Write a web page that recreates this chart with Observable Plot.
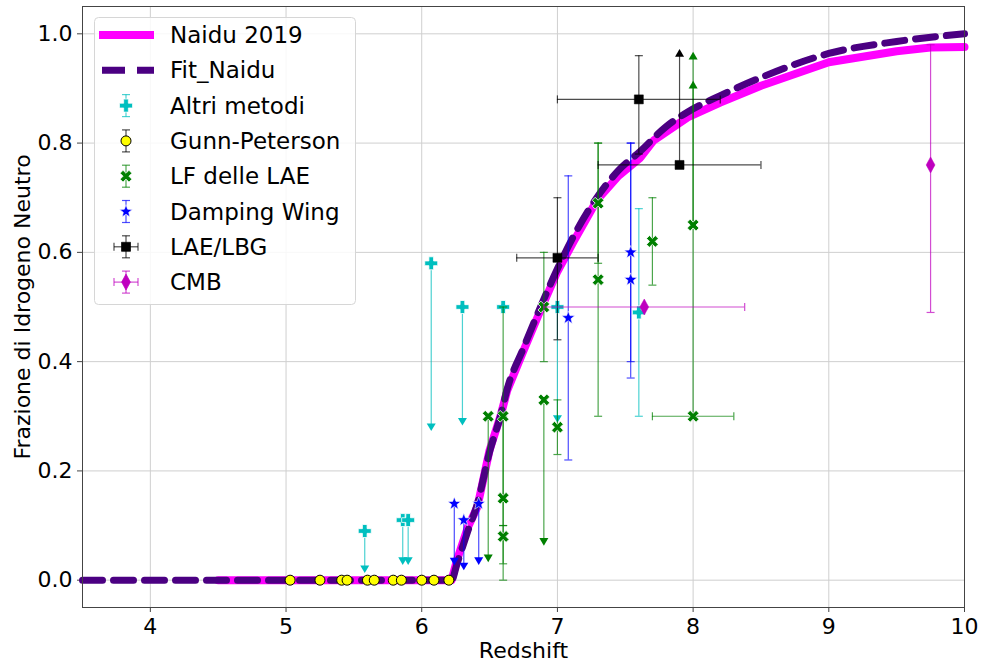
<!DOCTYPE html>
<html>
<head>
<meta charset="utf-8">
<script src="https://cdn.jsdelivr.net/npm/d3@7"></script>
<script src="https://cdn.jsdelivr.net/npm/@observablehq/plot@0.6"></script>
<style>
  body { margin: 0; background: #fff; }
  #chart { position: relative; width: 982px; height: 664px; font-family: "DejaVu Sans", sans-serif; }
  #legend { position: absolute; left: 94px; top: 17px; }
</style>
</head>
<body>
<div id="chart"></div>
<script>
// ---- Axis ticks ----
const xTicks = [4, 5, 6, 7, 8, 9, 10];
const yTicks = [0, 0.2, 0.4, 0.6, 0.8, 1.0];

// ---- Naidu 2019 model (redshift, neutral fraction) ----
const naiduZ = [4.5, 6.22, 6.26, 6.34, 6.41, 6.5, 6.58, 6.63, 6.75, 6.875, 7.0, 7.12, 7.29, 7.45, 7.61, 7.71, 7.96, 8.2, 8.5, 9.0, 9.5, 9.75, 10];
const naiduX = [0, 0, 0.037, 0.097, 0.134, 0.238, 0.30, 0.347, 0.42, 0.494, 0.565, 0.62, 0.695, 0.74, 0.773, 0.805, 0.847, 0.874, 0.905, 0.948, 0.968, 0.975, 0.976];

// ---- Fit to the Naidu model ----
const fitZ = [3.5, 6.22, 6.26, 6.34, 6.41, 6.5, 6.58, 6.63, 6.75, 6.875, 7.0, 7.12, 7.29, 7.45, 7.61, 7.8, 7.96, 8.2, 8.5, 9.0, 9.5, 10];
const fitX = [0, 0, 0.03, 0.09, 0.14, 0.235, 0.30, 0.35, 0.425, 0.50, 0.57, 0.63, 0.70, 0.75, 0.785, 0.83, 0.857, 0.887, 0.92, 0.964, 0.986, 1.0];

// ---- Observational constraints ----
// z: redshift, x: neutral fraction, lo/hi: error-bar ends, zlo/zhi: redshift range,
// lim: "upper" (arrow down to lo) or "lower" (arrow up to hi)
const altriMetodi = [
  {z: 5.58, x: 0.09, lo: 0.02, lim: "upper"},
  {z: 5.86, x: 0.11, lo: 0.035, lim: "upper"},
  {z: 5.90, x: 0.11, lo: 0.035, lim: "upper"},
  {z: 6.07, x: 0.58, lo: 0.28, lim: "upper"},
  {z: 6.30, x: 0.50, lo: 0.29, lim: "upper"},
  {z: 6.60, x: 0.50},
  {z: 7.00, x: 0.50, lo: 0.295, lim: "upper"},
  {z: 7.60, x: 0.49, lo: 0.30, hi: 0.68}
];
const gunnPetersonZ = [5.03, 5.25, 5.41, 5.45, 5.60, 5.65, 5.79, 5.85, 6.00, 6.09, 6.20];
const gunnPetersonX = [0, 0, 0, 0, 0, 0, 0, 0, 0, 0, 0];
const lfLAE = [
  {z: 6.49, x: 0.30, lo: 0.04, lim: "upper"},
  {z: 6.60, x: 0.30, lo: 0.10, hi: 0.50},
  {z: 6.60, x: 0.15, lo: 0.03, hi: 0.30},
  {z: 6.60, x: 0.08, lo: 0.0, hi: 0.10},
  {z: 6.90, x: 0.33, lo: 0.07, lim: "upper"},
  {z: 6.90, x: 0.50, lo: 0.40, hi: 0.60},
  {z: 7.00, x: 0.28, lo: 0.23, hi: 0.33},
  {z: 7.30, x: 0.69, lo: 0.58, hi: 0.80},
  {z: 7.30, x: 0.55, lo: 0.30, hi: 0.80},
  {z: 7.70, x: 0.62, lo: 0.54, hi: 0.70},
  {z: 8.00, x: 0.65, hi: 0.907, lim: "lower"},
  {z: 8.00, x: 0.30, hi: 0.96, lim: "lower", zlo: 7.7, zhi: 8.3}
];
const dampingWing = [
  {z: 6.24, x: 0.14, lo: 0.034, lim: "upper"},
  {z: 6.31, x: 0.11, lo: 0.025, lim: "upper"},
  {z: 6.42, x: 0.14, lo: 0.035, lim: "upper"},
  {z: 7.08, x: 0.48, lo: 0.22, hi: 0.74},
  {z: 7.54, x: 0.60, lo: 0.40, hi: 0.80},
  {z: 7.54, x: 0.55, lo: 0.37, hi: 0.80}
];
const laeLBG = [
  {z: 7.0, x: 0.59, lo: 0.44, hi: 0.70, zlo: 6.7, zhi: 7.3},
  {z: 7.6, x: 0.88, lo: 0.78, hi: 0.96, zlo: 7.0, zhi: 8.2},
  {z: 7.9, x: 0.76, hi: 0.965, lim: "lower", zlo: 7.3, zhi: 8.5}
];
const cmb = [
  {z: 7.64, x: 0.50, zlo: 6.9, zhi: 8.38},
  {z: 9.75, x: 0.76, lo: 0.49, hi: 0.98}
];

const seriesNames = ["Naidu 2019", "Fit_Naidu", "Altri metodi", "Gunn-Peterson", "LF delle LAE", "Damping Wing", "LAE/LBG", "CMB"];
const colors = {
  naidu: "#ff00ff", fit: "#4b0082", altri: "#00bfbf", gp: "#ffff00",
  lf: "#008000", dw: "#0000ff", lbg: "#000000", cmb: "#bf00bf"
};

// ---- Marker shapes (half-extent derived from the symbol size) ----
const half = size => Math.sqrt(size / Math.PI);
function poly(ctx, pts) {
  ctx.moveTo(pts[0][0], pts[0][1]);
  for (let i = 1; i < pts.length; i++) ctx.lineTo(pts[i][0], pts[i][1]);
  ctx.closePath();
}
function crossPts(r, t) {
  return [[-t,-r],[t,-r],[t,-t],[r,-t],[r,t],[t,t],[t,r],[-t,r],[-t,t],[-r,t],[-r,-t],[-t,-t]];
}
const symPlus = {draw(ctx, size) { const r = half(size); poly(ctx, crossPts(r, r * 0.36)); }};
const symX = {draw(ctx, size) {
  const r = half(size) * 1.2, c = Math.SQRT1_2;
  poly(ctx, crossPts(r, r * 0.33).map(([x, y]) => [c * (x - y), c * (x + y)]));
}};
const symStar = {draw(ctx, size) {
  const r = half(size), ri = r * 0.42, pts = [];
  for (let i = 0; i < 10; i++) {
    const a = -Math.PI / 2 + i * Math.PI / 5, rr = i % 2 ? ri : r;
    pts.push([rr * Math.cos(a), rr * Math.sin(a)]);
  }
  poly(ctx, pts);
}};
const symSquare = {draw(ctx, size) { const r = half(size); poly(ctx, [[-r,-r],[r,-r],[r,r],[-r,r]]); }};
const symDiamond = {draw(ctx, size) { const r = half(size); poly(ctx, [[0,-r],[r*0.55,0],[0,r],[-r*0.55,0]]); }};
const symHCap = {draw(ctx, size) { const r = half(size); ctx.moveTo(-r, 0); ctx.lineTo(r, 0); }};
const symVCap = {draw(ctx, size) { const r = half(size); ctx.moveTo(0, -r); ctx.lineTo(0, r); }};
const symCaretDown = {draw(ctx, size) { const r = half(size); poly(ctx, [[-r,-r*0.85],[r,-r*0.85],[0,r*0.85]]); }};
const symCaretUp = {draw(ctx, size) { const r = half(size); poly(ctx, [[-r,r*0.85],[r,r*0.85],[0,-r*0.85]]); }};

// ---- Error bars, caps, limit arrows and markers for one data set ----
function errorbarMarks(rows, color, symbol, r, markerStroke, markerStrokeWidth) {
  const eOpts = {stroke: color, strokeOpacity: 0.7, strokeWidth: 1.2};
  const vert = rows.filter(d => d.lo != null || d.hi != null)
    .map(d => ({z: d.z, y1: d.lo ?? d.x, y2: d.hi ?? d.x}));
  const horiz = rows.filter(d => d.zlo != null).map(d => ({y: d.x, z1: d.zlo, z2: d.zhi}));
  const capsV = [];
  rows.forEach(d => {
    if (d.lo != null && d.lim !== "upper") capsV.push({z: d.z, y: d.lo});
    if (d.hi != null && d.lim !== "lower") capsV.push({z: d.z, y: d.hi});
  });
  const capsH = rows.filter(d => d.zlo != null).flatMap(d => [{z: d.zlo, y: d.x}, {z: d.zhi, y: d.x}]);
  const down = rows.filter(d => d.lim === "upper").map(d => ({z: d.z, y: d.lo}));
  const up = rows.filter(d => d.lim === "lower").map(d => ({z: d.z, y: d.hi}));
  return [
    Plot.ruleX(vert, {x: "z", y1: "y1", y2: "y2", ...eOpts}),
    Plot.ruleY(horiz, {y: "y", x1: "z1", x2: "z2", ...eOpts}),
    Plot.dot(capsV, {x: "z", y: "y", symbol: symHCap, r: 4, fill: "none", ...eOpts}),
    Plot.dot(capsH, {x: "z", y: "y", symbol: symVCap, r: 4, fill: "none", ...eOpts}),
    Plot.dot(down, {x: "z", y: "y", symbol: symCaretDown, r: 4.5, fill: color, stroke: "none"}),
    Plot.dot(up, {x: "z", y: "y", symbol: symCaretUp, r: 4.5, fill: color, stroke: "none"}),
    Plot.dot(rows, {x: "z", y: "x", symbol, r, fill: color, stroke: markerStroke, strokeWidth: markerStrokeWidth})
  ];
}

const naidu = naiduZ.map((z, i) => ({z, x: naiduX[i]}));
const fit = fitZ.map((z, i) => ({z, x: fitX[i]}));
const gunnPeterson = gunnPetersonZ.map((z, i) => ({z, x: gunnPetersonX[i]}));

const plot = Plot.plot({
  width: 982,
  height: 664,
  marginLeft: 82,
  marginRight: 18,
  marginTop: 6,
  marginBottom: 57,
  x: {domain: [3.5, 10]},
  y: {domain: [-0.05, 1.05]},
  style: {fontFamily: "'DejaVu Sans', sans-serif", fontSize: "22px", color: "#000", background: "#fff"},
  marks: [
    Plot.gridX(xTicks, {stroke: "#cfcfcf", strokeOpacity: 1, strokeWidth: 1}),
    Plot.gridY(yTicks, {stroke: "#cfcfcf", strokeOpacity: 1, strokeWidth: 1}),
    Plot.axisX(xTicks, {tickSize: 5, tickPadding: 6, label: null, tickFormat: d3.format("d"), stroke: "#444", fill: "#000", fontSize: 22}),
    Plot.axisY(yTicks, {tickSize: 5, tickPadding: 5, label: null, tickFormat: d3.format(".1f"), stroke: "#444", fill: "#000", fontSize: 22}),
    Plot.line(naidu, {x: "z", y: "x", stroke: colors.naidu, strokeWidth: 8}),
    Plot.line(fit, {x: "z", y: "x", stroke: colors.fit, strokeWidth: 7, strokeDasharray: "20,11", curve: "monotone-x"}),
    ...errorbarMarks(altriMetodi, colors.altri, symPlus, 6.5, "#ffffff", 0.8),
    Plot.dot(gunnPeterson, {x: "z", y: "x", r: 5, fill: colors.gp, stroke: "#000", strokeWidth: 1}),
    ...errorbarMarks(lfLAE, colors.lf, symX, 5.2, "#ffffff", 0.8),
    ...errorbarMarks(dampingWing, colors.dw, symStar, 6.8, "#ffffff", 0.6),
    ...errorbarMarks(laeLBG, colors.lbg, symSquare, 4.5, "#000", 0.5),
    ...errorbarMarks(cmb, colors.cmb, symDiamond, 8, colors.cmb, 0.5),
    Plot.frame({stroke: "#444", strokeWidth: 1}),
    Plot.text(["Redshift"], {text: d => d, frameAnchor: "bottom", lineAnchor: "middle", dy: 43, fontSize: 22, fill: "#000"}),
    Plot.text(["Frazione di Idrogeno Neutro"], {text: d => d, frameAnchor: "left", textAnchor: "middle", lineAnchor: "middle", dx: -60, rotate: -90, fontSize: 22, fill: "#000"})
  ]
});

const chart = document.getElementById("chart");
chart.appendChild(plot);

// ---- Legend drawn in the upper-left corner of the plot area ----
const legendW = 261, legendH = 287, rowH = 35.3, row0 = 18, hx = 32, textX = 76;
const leg = d3.select(chart).append("svg")
  .attr("id", "legend").attr("width", legendW + 2).attr("height", legendH + 2)
  .style("font-family", "'DejaVu Sans', sans-serif");
leg.append("rect").attr("x", 0.5).attr("y", 0.5).attr("width", legendW).attr("height", legendH)
  .attr("rx", 4).attr("fill", "#fff").attr("fill-opacity", 0.85).attr("stroke", "#d6d6d6");
const symPath = (sym, r) => { const p = d3.path(); sym.draw(p, r * r * Math.PI); return p.toString(); };
const entries = [
  {type: "line", color: colors.naidu, width: 8},
  {type: "dash", color: colors.fit, width: 7},
  {type: "marker", color: colors.altri, sym: symPlus, r: 6.5, edge: "#fff"},
  {type: "circle", color: colors.gp},
  {type: "marker", color: colors.lf, sym: symX, r: 5.2, edge: "#fff"},
  {type: "marker", color: colors.dw, sym: symStar, r: 6.8, edge: "#fff"},
  {type: "marker", color: colors.lbg, sym: symSquare, r: 4.5, edge: "#000", xbar: true},
  {type: "marker", color: colors.cmb, sym: symDiamond, r: 8, edge: colors.cmb, xbar: true}
];
entries.forEach((e, i) => {
  const cy = row0 + i * rowH;
  const g = leg.append("g").attr("transform", `translate(0,${cy})`);
  if (e.type === "line") {
    g.append("line").attr("x1", 5).attr("x2", 60).attr("stroke", e.color).attr("stroke-width", e.width);
  } else if (e.type === "dash") {
    g.append("line").attr("x1", 8).attr("x2", 60).attr("stroke", e.color).attr("stroke-width", e.width)
      .attr("stroke-dasharray", "23,12");
  } else {
    const ec = e.type === "circle" ? "#000" : e.color;
    const bar = g.append("g").attr("stroke", ec).attr("stroke-opacity", 0.7).attr("stroke-width", 1.2);
    bar.append("line").attr("x1", hx).attr("x2", hx).attr("y1", -11).attr("y2", 11);
    bar.append("line").attr("x1", hx - 4).attr("x2", hx + 4).attr("y1", -11).attr("y2", -11);
    bar.append("line").attr("x1", hx - 4).attr("x2", hx + 4).attr("y1", 11).attr("y2", 11);
    if (e.xbar) {
      bar.append("line").attr("x1", hx - 12).attr("x2", hx + 12).attr("y1", 0).attr("y2", 0);
      bar.append("line").attr("x1", hx - 12).attr("x2", hx - 12).attr("y1", -4).attr("y2", 4);
      bar.append("line").attr("x1", hx + 12).attr("x2", hx + 12).attr("y1", -4).attr("y2", 4);
    }
    if (e.type === "circle") {
      g.append("circle").attr("cx", hx).attr("r", 5).attr("fill", e.color).attr("stroke", "#000");
    } else {
      g.append("path").attr("transform", `translate(${hx},0)`).attr("d", symPath(e.sym, e.r))
        .attr("fill", e.color).attr("stroke", e.edge).attr("stroke-width", 0.7);
    }
  }
  g.append("text").attr("x", textX).attr("y", 0).attr("dy", "0.35em")
    .attr("font-size", 23).attr("fill", "#000").text(seriesNames[i]);
});
</script>
</body>
</html>
